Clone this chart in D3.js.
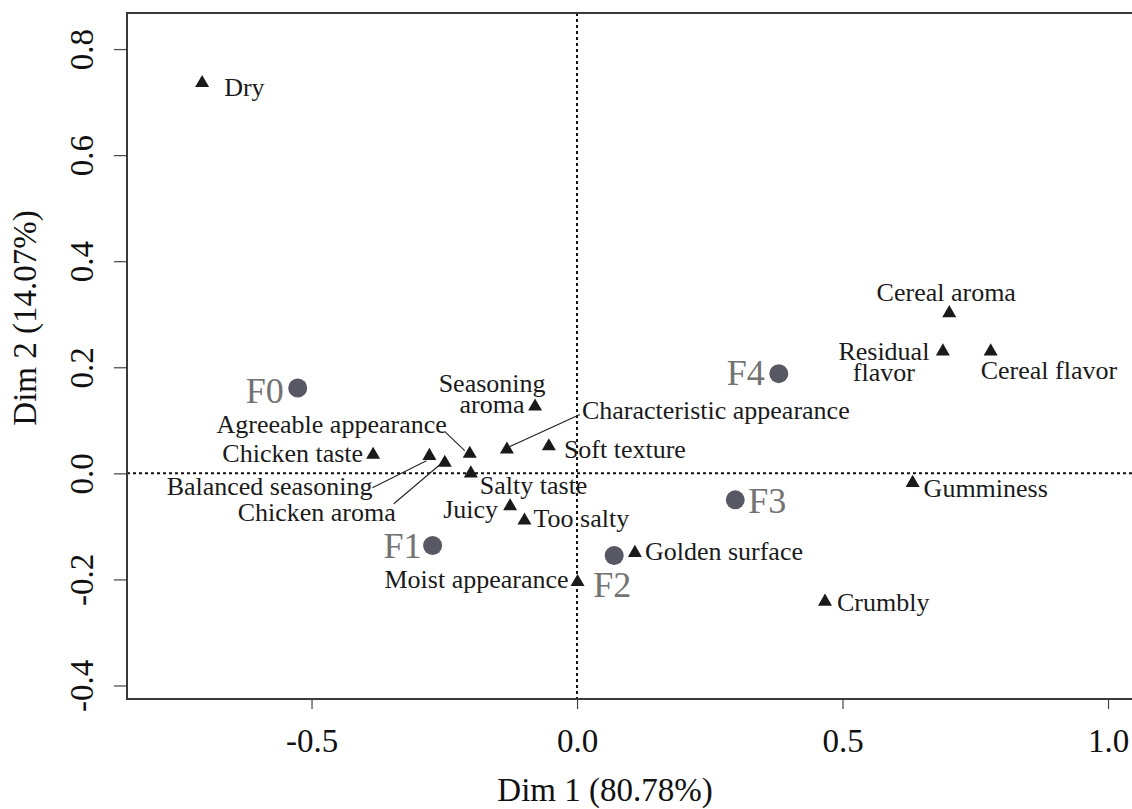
<!DOCTYPE html>
<html lang="en">
<head>
  <meta charset="UTF-8">
  <title>PCA biplot</title>
  <style>
    html, body { margin: 0; background: #fff; }
    svg { display: block; font-family: 'Liberation Serif', 'Times New Roman', serif; }
  </style>
  <script src="https://cdn.jsdelivr.net/npm/d3@7/dist/d3.min.js"></script>
</head>
<body>
  <script>
    const width = 1132
    const height = 809

    // sensory attributes (triangles)
    const attrNames = ['Dry', 'Chicken taste', 'Balanced seasoning', 'Chicken aroma', 'Agreeable appearance',
      'Salty taste', 'Characteristic appearance', 'Seasoning aroma', 'Soft texture', 'Juicy', 'Too salty',
      'Moist appearance', 'Golden surface', 'Cereal aroma', 'Residual flavor', 'Cereal flavor', 'Gumminess', 'Crumbly']
    const attrDim1 = [-0.706, -0.384, -0.278, -0.249, -0.202, -0.200, -0.132, -0.079, -0.053, -0.126, -0.099,
      0.001, 0.109, 0.701, 0.689, 0.779, 0.632, 0.467]
    const attrDim2 = [0.736, 0.035, 0.033, 0.020, 0.037, 0.000, 0.045, 0.126, 0.051, -0.062, -0.089,
      -0.205, -0.150, 0.302, 0.230, 0.230, -0.018, -0.242]

    // formulations (circles)
    const sampleNames = ['F0', 'F1', 'F2', 'F3', 'F4']
    const sampleDim1 = [-0.526, -0.272, 0.070, 0.298, 0.380]
    const sampleDim2 = [0.161, -0.136, -0.155, -0.050, 0.188]

    const xTicks = [-0.5, 0.0, 0.5, 1.0]
    const yTicks = [-0.4, -0.2, 0.0, 0.2, 0.4, 0.6, 0.8]
    const xTitle = 'Dim 1 (80.78%)'
    const yTitle = 'Dim 2 (14.07%)'

    // label placement in px relative to the mark: [anchor, dx, dy, leadStart, leadEnd, lineGap]
    const attrLabelPos = {
      'Dry': ['start', 22, 13],
      'Chicken taste': ['end', -10, 7],
      'Balanced seasoning': ['end', -57, 39, [-57, 32], [-3, 5]],
      'Chicken aroma': ['end', -49, 58, [-51, 41], [-5, 2]],
      'Agreeable appearance': ['end', -23, -21, [-25, -22], [-5, -3]],
      'Salty taste': ['start', 9, 21],
      'Characteristic appearance': ['start', 75, -30, [73, -35], [3, -3]],
      'Seasoning aroma': ['middle', -43, -15, null, null, 21],
      'Soft texture': ['start', 15, 12],
      'Juicy': ['end', -12, 12],
      'Too salty': ['start', 9, 6],
      'Moist appearance': ['end', -9, 6],
      'Golden surface': ['start', 10, 7],
      'Cereal aroma': ['middle', -3, -12],
      'Residual flavor': ['middle', -59, 9, null, null, 21],
      'Cereal flavor': ['start', -10, 28],
      'Gumminess': ['start', 11, 14],
      'Crumbly': ['start', 12, 9]
    }
    const sampleLabelPos = {
      F0: ['end', -14, 15],
      F1: ['end', -11, 13],
      F2: ['start', -21, 41],
      F3: ['start', 13, 13],
      F4: ['end', -14, 11]
    }

    const margin = { left: 127, top: 13, bottom: 110 }

    const xScale = d3.scaleLinear().domain([-0.8475, 1.05]).range([margin.left, margin.left + 1.8975 * 531])
    const yScale = d3.scaleLinear().domain([-0.4255, 0.868]).range([height - margin.bottom, margin.top])

    // R style labels: plain hyphen for negatives
    const fmt = d => d3.format('.1f')(d).replace('−', '-')

    const svg = d3.select('body').append('svg')
      .attr('width', width)
      .attr('height', height)

    const x0 = xScale.range()[0], x1 = xScale.range()[1]
    const yTop = yScale.range()[1], yBot = yScale.range()[0]

    // zero reference lines
    svg.append('line')
      .attr('x1', xScale(0)).attr('x2', xScale(0))
      .attr('y1', yTop).attr('y2', yBot)
      .attr('stroke', '#111').attr('stroke-width', 2).attr('stroke-dasharray', '3,3')
    svg.append('line')
      .attr('x1', x0).attr('x2', x1)
      .attr('y1', yScale(0)).attr('y2', yScale(0))
      .attr('stroke', '#111').attr('stroke-width', 2).attr('stroke-dasharray', '3,3')

    // axes
    const gx = svg.append('g')
      .attr('transform', `translate(0, ${yBot})`)
      .call(d3.axisBottom(xScale).tickValues(xTicks).tickSize(10).tickFormat(fmt))
    gx.select('.domain').remove()
    gx.selectAll('line').attr('stroke', '#444').attr('stroke-width', 1.2)
    gx.selectAll('text')
      .attr('y', 53).attr('dy', 0)
      .attr('fill', '#111')
      .style('font-size', '33px')
      .style('font-family', '"Liberation Serif"')

    const gy = svg.append('g')
      .attr('transform', `translate(${x0}, 0)`)
      .call(d3.axisLeft(yScale).tickValues(yTicks).tickSize(13).tickFormat(fmt))
    gy.select('.domain').remove()
    gy.selectAll('line').attr('stroke', '#444').attr('stroke-width', 1.2)
    gy.selectAll('text')
      .attr('x', 0).attr('y', 0).attr('dy', 0)
      .attr('text-anchor', 'middle')
      .attr('transform', 'translate(-34, 0) rotate(-90)')
      .attr('fill', '#111')
      .style('font-size', '33px')
      .style('font-family', '"Liberation Serif"')

    // frame
    svg.append('rect')
      .attr('x', x0).attr('y', yTop)
      .attr('width', x1 - x0).attr('height', yBot - yTop)
      .attr('fill', 'none').attr('stroke', '#3a3a3a').attr('stroke-width', 2)

    // axis titles
    svg.append('text')
      .attr('x', 605).attr('y', 801)
      .attr('text-anchor', 'middle')
      .attr('fill', '#111')
      .style('font-size', '33px')
      .text(xTitle)
    svg.append('text')
      .attr('transform', 'translate(36, 318) rotate(-90)')
      .attr('text-anchor', 'middle')
      .attr('fill', '#111')
      .style('font-size', '33px')
      .text(yTitle)

    const attrs = attrNames.map((n, i) => ({ name: n, x: attrDim1[i], y: attrDim2[i], pos: attrLabelPos[n] }))
    const samples = sampleNames.map((n, i) => ({ name: n, x: sampleDim1[i], y: sampleDim2[i], pos: sampleLabelPos[n] }))

    // connector lines
    svg.selectAll('.lead')
      .data(attrs.filter(d => d.pos[3]))
      .enter()
      .append('line')
      .attr('class', 'lead')
      .attr('x1', d => xScale(d.x) + d.pos[3][0])
      .attr('y1', d => yScale(d.y) + d.pos[3][1])
      .attr('x2', d => xScale(d.x) + d.pos[4][0])
      .attr('y2', d => yScale(d.y) + d.pos[4][1])
      .attr('stroke', '#222').attr('stroke-width', 1.1)

    // triangles
    svg.selectAll('.attr')
      .data(attrs)
      .enter()
      .append('path')
      .attr('class', 'attr')
      .attr('d', d3.symbol(d3.symbolTriangle, 85))
      .attr('transform', d => `translate(${xScale(d.x)}, ${yScale(d.y)})`)
      .attr('fill', '#1a1a1a')

    // attribute labels (two-line ones become separate texts)
    attrs.forEach(d => {
      const [anchor, dx, dy, , , gap] = d.pos
      const lines = gap ? [d.name.split(' ')[0], d.name.split(' ').slice(1).join(' ')] : [d.name]
      lines.forEach((line, k) => {
        svg.append('text')
          .attr('class', 'attrLabel')
          .attr('text-anchor', anchor)
          .attr('x', xScale(d.x) + dx)
          .attr('y', yScale(d.y) + dy + k * (gap || 0))
          .attr('fill', '#1a1a1a')
          .style('font-size', '26px')
          .text(line)
      })
    })

    // sample points
    svg.selectAll('.sample')
      .data(samples)
      .enter()
      .append('circle')
      .attr('class', 'sample')
      .attr('cx', d => xScale(d.x))
      .attr('cy', d => yScale(d.y))
      .attr('r', 9.5)
      .attr('fill', '#585864')

    svg.selectAll('.sampleLabel')
      .data(samples)
      .enter()
      .append('text')
      .attr('class', 'sampleLabel')
      .attr('text-anchor', d => d.pos[0])
      .attr('x', d => xScale(d.x) + d.pos[1])
      .attr('y', d => yScale(d.y) + d.pos[2])
      .attr('fill', '#737373')
      .style('font-size', '36px')
      .text(d => d.name)
  </script>
</body>
</html>
